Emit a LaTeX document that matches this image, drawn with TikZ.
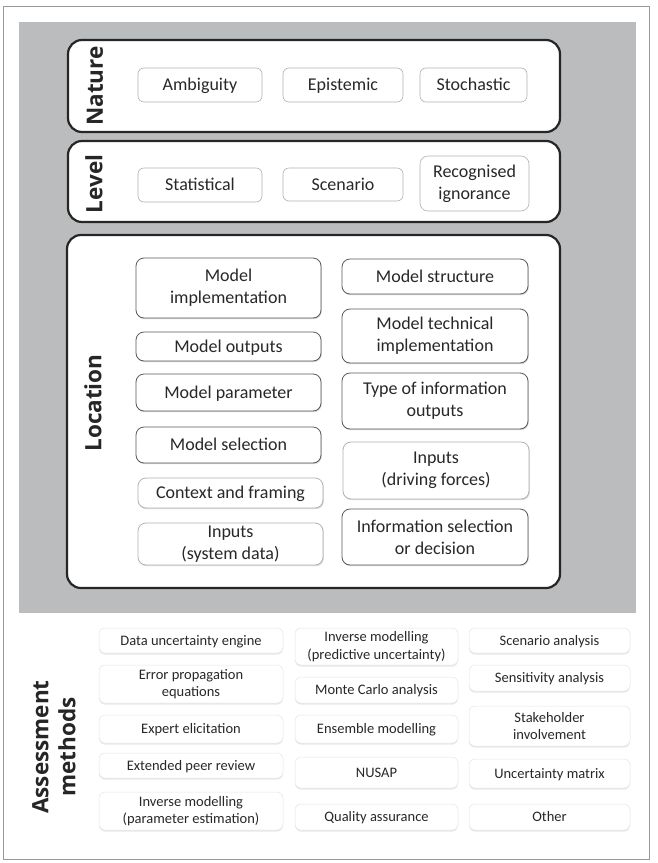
\documentclass[tikz,border=0pt]{standalone}
\usepackage{fontspec}
\setmainfont{Carlito}
\newfontfamily\hdfont{Open Sans}
\usetikzlibrary{shadows}
\definecolor{bggray}{RGB}{187,188,190}
\definecolor{txt}{RGB}{40,40,40}
\tikzset{
  bigbox/.style={draw=black!85, line width=2.2pt, rounded corners=14pt, fill=white},
  head/.style={rotate=90, font=\hdfont\bfseries\fontsize{22.5}{27}\selectfont, text=black!85, align=center},
  sl/.style={text height=11.6pt, text depth=0pt},
  asl/.style={text height=9.4pt, text depth=0pt},
  nbox/.style={draw=black!30, line width=0.6pt, rounded corners=6pt, fill=white, text=txt,
    font=\fontsize{18}{22}\selectfont, align=center, inner sep=0pt},
  lbox/.style={draw=black!65, line width=0.8pt, rounded corners=8pt, fill=white, text=txt,
    font=\fontsize{18}{22}\selectfont, align=center, inner sep=0pt,
    drop shadow={shadow xshift=0.8pt, shadow yshift=-1.2pt, fill=black!30}},
  lboxlight/.style={lbox, draw=black!30, drop shadow={shadow xshift=0.5pt, shadow yshift=-0.8pt, fill=black!12}},
  abox/.style={draw=black!10, line width=0.5pt, rounded corners=6pt, fill=white, text=txt,
    font=\fontsize{14.5}{17.5}\selectfont, align=center, inner sep=0pt,
    drop shadow={shadow xshift=0pt, shadow yshift=-1.6pt, fill=black!18}},
}
\begin{document}
\begin{tikzpicture}[x=1pt,y=-1pt]
\useasboundingbox (0,0) rectangle (657,863);
% outer frame and gray background
\draw[black!40, line width=0.7pt] (3.5,6) rectangle (649,859);
\fill[bggray] (19,22) rectangle (636,613);
% big boxes
\node[bigbox, minimum width=492pt, minimum height=92pt] (nature) at (314,86) {};
\node[bigbox, minimum width=492pt, minimum height=81pt] (level) at (314,181.5) {};
\node[bigbox, minimum width=493pt, minimum height=353pt] (location) at (313.5,411.5) {};
% headings
\node[head] (hnature) at (95,86) {Nature};
\node[head] (hlevel) at (94,184) {Level};
\node[head] (hlocation) at (93,403) {Location};
\node[head] (hassess) at (54,747) {Assessment\\methods};
% Nature
\node[nbox, sl, minimum width=124pt, minimum height=34pt] (amb) at (200,85) {Ambiguity};
\node[nbox, sl, minimum width=120pt, minimum height=34pt] (epi) at (343,85) {Epistemic};
\node[nbox, sl, minimum width=107pt, minimum height=34pt] (sto) at (473.5,85) {Stochastic};
% Level
\node[nbox, sl, minimum width=124pt, minimum height=34pt] (stat) at (200,185) {Statistical};
\node[nbox, sl, minimum width=120pt, minimum height=33pt] (scen) at (343,184.5) {Scenario};
\node[nbox, minimum width=109pt, minimum height=55pt, rounded corners=8pt] (recog) at (474.5,183.5) {Recognised\\ignorance};
% Location left column
\node[lbox, minimum width=185pt, minimum height=60pt] (mimpl) at (228.5,288) {Model\\implementation};
\node[lbox, sl, minimum width=185pt, minimum height=29pt] (mout) at (228.5,346.5) {Model outputs};
\node[lbox, sl, minimum width=185pt, minimum height=37pt] (mpar) at (228.5,392.5) {Model parameter};
\node[lbox, sl, minimum width=185pt, minimum height=36pt] (msel) at (228.5,445) {Model selection};
\node[lboxlight, sl, minimum width=185pt, minimum height=30pt] (ctx) at (230.5,493) {Context and framing};
\node[lboxlight, minimum width=185pt, minimum height=42pt] (insys) at (230.5,544) {Inputs\\(system data)};
% Location right column
\node[lbox, sl, minimum width=186pt, minimum height=35pt] (mstr) at (435,276.5) {Model structure};
\node[lbox, minimum width=186pt, minimum height=54pt] (mtech) at (435,336) {Model technical\\implementation};
\node[lbox, minimum width=186pt, minimum height=56pt] (tinfo) at (435,401) {Type of information\\outputs};
\node[lboxlight, minimum width=186pt, minimum height=57pt] (indrv) at (436,470.5) {Inputs\\(driving forces)};
\node[lbox, minimum width=186pt, minimum height=56pt] (isel) at (435,537) {Information selection\\or decision};
% Assessment methods column 1
\node[abox, asl, minimum width=184pt, minimum height=25pt] (a11) at (191,640.5) {Data uncertainty engine};
\node[abox, minimum width=184pt, minimum height=38pt] (a12) at (191,684) {Error propagation\\equations};
\node[abox, asl, minimum width=184pt, minimum height=28pt] (a13) at (191,729) {Expert elicitation};
\node[abox, asl, minimum width=184pt, minimum height=25pt] (a14) at (191,765.5) {Extended peer review};
\node[abox, minimum width=184pt, minimum height=38pt] (a15) at (191,811) {Inverse modelling\\(parameter estimation)};
% column 2
\node[abox, minimum width=163pt, minimum height=37pt] (a21) at (376.5,646.5) {Inverse modelling\\(predictive uncertainty)};
\node[abox, asl, minimum width=163pt, minimum height=26pt] (a22) at (376.5,690) {Monte Carlo analysis};
\node[abox, asl, minimum width=163pt, minimum height=28pt] (a23) at (376.5,729) {Ensemble modelling};
\node[abox, asl, minimum width=163pt, minimum height=31pt] (a24) at (376.5,772.5) {NUSAP};
\node[abox, asl, minimum width=163pt, minimum height=26pt] (a25) at (376.5,817) {Quality assurance};
% column 3
\node[abox, asl, minimum width=161pt, minimum height=25pt] (a31) at (549.5,640.5) {Scenario analysis};
\node[abox, asl, minimum width=161pt, minimum height=26pt] (a32) at (549.5,678) {Sensitivity analysis};
\node[abox, minimum width=161pt, minimum height=40pt] (a33) at (549.5,726) {Stakeholder\\involvement};
\node[abox, asl, minimum width=161pt, minimum height=29pt] (a34) at (549.5,773.5) {Uncertainty matrix};
\node[abox, asl, minimum width=161pt, minimum height=26pt] (a35) at (549.5,817) {Other};
\end{tikzpicture}
\end{document}
